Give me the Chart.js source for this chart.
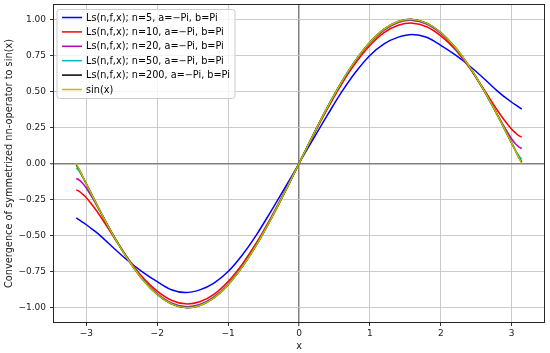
<!DOCTYPE html>
<html>
<head>
<meta charset="utf-8">
<script src="https://cdn.jsdelivr.net/npm/chart.js@4.4.1/dist/chart.umd.min.js"></script>
<style>
  html, body { margin: 0; padding: 0; background: #ffffff; }
  canvas { display: block; }
</style>
</head>
<body>
<canvas id="c" width="550" height="353"></canvas>
<script>
// x sample positions (radians)
const xs = [-3.1416,-3.1,-3.05,-3.0,-2.9,-2.8,-2.6,-2.4,-2.2,-2.0,-1.8,-1.6,-1.4,-1.2,-1.0,-0.8,-0.6,-0.4,-0.2,0,
             0.2,0.4,0.6,0.8,1.0,1.2,1.4,1.6,1.8,2.0,2.2,2.4,2.6,2.8,2.9,3.0,3.05,3.1,3.1416];

// Ls(n,f,x), n=5
const ls5 = [-0.378,-0.392,-0.408,-0.425,-0.462,-0.502,-0.593,-0.68,-0.755,-0.82,-0.876,-0.896,-0.877,-0.83,-0.75,-0.635,-0.495,-0.335,-0.17,0,
              0.17,0.335,0.495,0.635,0.75,0.83,0.877,0.896,0.876,0.82,0.755,0.68,0.593,0.502,0.462,0.425,0.408,0.392,0.378];
// n=10
const ls10 = [-0.183,-0.193,-0.214,-0.237,-0.298,-0.368,-0.521,-0.667,-0.793,-0.886,-0.949,-0.974,-0.959,-0.908,-0.819,-0.698,-0.550,-0.379,-0.194,0,
               0.194,0.379,0.550,0.698,0.819,0.908,0.959,0.974,0.949,0.886,0.793,0.667,0.521,0.368,0.298,0.237,0.214,0.193,0.183];
// n=20
const ls20 = [-0.104,-0.115,-0.138,-0.170,-0.250,-0.338,-0.513,-0.671,-0.803,-0.903,-0.968,-0.993,-0.979,-0.926,-0.836,-0.712,-0.561,-0.386,-0.198,0,
               0.198,0.386,0.561,0.712,0.836,0.926,0.979,0.993,0.968,0.903,0.803,0.671,0.513,0.338,0.250,0.170,0.138,0.115,0.104];
// n=50
const ls50 = [-0.030,-0.054,-0.095,-0.142,-0.239,-0.335,-0.515,-0.674,-0.807,-0.908,-0.973,-0.999,-0.984,-0.931,-0.840,-0.716,-0.564,-0.389,-0.199,0,
               0.199,0.389,0.564,0.716,0.840,0.931,0.984,0.999,0.973,0.908,0.807,0.674,0.515,0.335,0.239,0.142,0.095,0.054,0.030];
// n=200
const ls200 = [-0.007,-0.043,-0.092,-0.141,-0.239,-0.335,-0.516,-0.675,-0.808,-0.909,-0.974,-1.000,-0.985,-0.932,-0.841,-0.717,-0.565,-0.389,-0.199,0,
                0.199,0.389,0.565,0.717,0.841,0.932,0.985,1.000,0.974,0.909,0.808,0.675,0.516,0.335,0.239,0.141,0.092,0.043,0.007];
// sin(x)
const sinx = [0,-0.042,-0.091,-0.141,-0.239,-0.335,-0.516,-0.675,-0.808,-0.909,-0.974,-1.000,-0.985,-0.932,-0.841,-0.717,-0.565,-0.389,-0.199,0,
               0.199,0.389,0.565,0.717,0.841,0.932,0.985,1.000,0.974,0.909,0.808,0.675,0.516,0.335,0.239,0.141,0.091,0.042,0];

const seriesLabels = [
  'Ls(n,f,x); n=5, a=\u2212Pi, b=Pi',
  'Ls(n,f,x); n=10, a=\u2212Pi, b=Pi',
  'Ls(n,f,x); n=20, a=\u2212Pi, b=Pi',
  'Ls(n,f,x); n=50, a=\u2212Pi, b=Pi',
  'Ls(n,f,x); n=200, a=\u2212Pi, b=Pi',
  'sin(x)'
];
const seriesValues = [ls5, ls10, ls20, ls50, ls200, sinx];
const seriesColors = ['#0000ff', '#ff0000', '#bf00bf', '#00bfbf', '#000000', '#bfbf00'];

const xTicks = [-3, -2, -1, 0, 1, 2, 3];
const yTicks = [-1, -0.75, -0.5, -0.25, 0, 0.25, 0.5, 0.75, 1];
const xTitle = 'x';
const yTitle = 'Convergence of symmetrized nn-operator to sin(x)';

const FONT = '"DejaVu Sans", "Liberation Sans", sans-serif';
const minus = v => (v < 0 ? '\u2212' : '');

const datasets = seriesValues.map((vals, i) => ({
  label: seriesLabels[i],
  data: xs.map((x, j) => ({ x: x, y: vals[j] })),
  showLine: true,
  borderColor: seriesColors[i],
  backgroundColor: seriesColors[i],
  borderWidth: 1.5,
  pointRadius: 0,
  pointHoverRadius: 0,
  fill: false,
  tension: 0.35,
  order: seriesValues.length - i
}));

const legendPlugin = {
  id: 'mplLegend',
  afterDatasetsDraw(chart) {
    const ctx = chart.ctx;
    ctx.save();
    const bx = 57, by = 9.5, bw = 178, bh = 89, r = 2.5;
    ctx.beginPath();
    ctx.moveTo(bx + r, by);
    ctx.lineTo(bx + bw - r, by);
    ctx.arcTo(bx + bw, by, bx + bw, by + r, r);
    ctx.lineTo(bx + bw, by + bh - r);
    ctx.arcTo(bx + bw, by + bh, bx + bw - r, by + bh, r);
    ctx.lineTo(bx + r, by + bh);
    ctx.arcTo(bx, by + bh, bx, by + bh - r, r);
    ctx.lineTo(bx, by + r);
    ctx.arcTo(bx, by, bx + r, by, r);
    ctx.closePath();
    ctx.fillStyle = 'rgba(255,255,255,0.8)';
    ctx.fill();
    ctx.strokeStyle = '#cccccc';
    ctx.lineWidth = 1;
    ctx.stroke();
    ctx.font = '9.7px ' + FONT;
    ctx.textBaseline = 'middle';
    ctx.textAlign = 'left';
    chart.data.datasets.forEach((ds, i) => {
      const y = 17.5 + i * 14.4;
      ctx.strokeStyle = ds.borderColor;
      ctx.lineWidth = 1.5;
      ctx.beginPath();
      ctx.moveTo(62, y);
      ctx.lineTo(82, y);
      ctx.stroke();
      ctx.fillStyle = '#000000';
      ctx.fillText(ds.label, 86, y + 0.5);
    });
    ctx.restore();
  },
  afterDraw(chart) {
    const ca = chart.chartArea;
    const ctx = chart.ctx;
    ctx.save();
    ctx.strokeStyle = '#262626';
    ctx.lineWidth = 1;
    ctx.strokeRect(Math.round(ca.left) - 0.5, Math.round(ca.top) - 0.5,
                   Math.round(ca.right - ca.left) + 1, Math.round(ca.bottom - ca.top) + 1);
    ctx.restore();
  }
};

const gridColor = c => (c.tick && c.tick.value === 0) ? '#808080' : '#c4c4c4';
const gridWidth = c => (c.tick && c.tick.value === 0) ? 1.5 : 0.9;

new Chart(document.getElementById('c'), {
  type: 'scatter',
  data: { datasets: datasets },
  plugins: [legendPlugin],
  options: {
    responsive: false,
    animation: false,
    devicePixelRatio: 1,
    layout: { padding: { left: 0, right: 6, top: 5, bottom: 0 } },
    plugins: { legend: { display: false }, tooltip: { enabled: false } },
    scales: {
      x: {
        type: 'linear',
        min: -3.456,
        max: 3.456,
        afterBuildTicks: s => { s.ticks = xTicks.map(v => ({ value: v })); },
        afterFit: s => { s.height = 31; s.paddingLeft = 0; s.paddingRight = 0; },
        grid: { color: gridColor, lineWidth: gridWidth, tickLength: 4, tickColor: '#333333', tickWidth: 1 },
        border: { display: false },
        ticks: {
          autoSkip: false, maxRotation: 0, padding: 2, color: '#1a1a1a',
          font: { family: FONT, size: 9 },
          callback: v => minus(v) + Math.abs(v).toString()
        },
        title: { display: true, text: xTitle, color: '#1a1a1a', font: { family: FONT, size: 9.7 }, padding: { top: 0, bottom: 1 } }
      },
      y: {
        type: 'linear',
        min: -1.1,
        max: 1.1,
        afterBuildTicks: s => { s.ticks = yTicks.map(v => ({ value: v })); },
        afterFit: s => { s.width = 54; s.paddingTop = 0; s.paddingBottom = 0; },
        grid: { color: gridColor, lineWidth: gridWidth, tickLength: 4, tickColor: '#333333', tickWidth: 1 },
        border: { display: false },
        ticks: {
          autoSkip: false, padding: 4, color: '#1a1a1a',
          font: { family: FONT, size: 9 },
          callback: v => minus(v) + Math.abs(v).toFixed(2)
        },
        title: { display: true, text: yTitle, color: '#1a1a1a', font: { family: FONT, size: 9.8 }, padding: { top: 4, bottom: 0 } }
      }
    }
  }
});
</script>
</body>
</html>
